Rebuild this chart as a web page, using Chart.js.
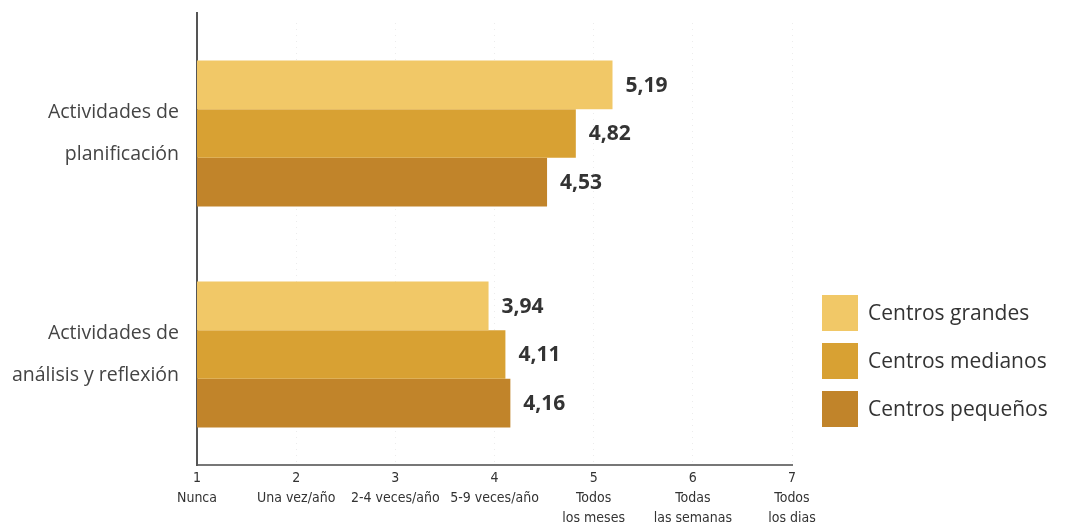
<!DOCTYPE html>
<html>
<head>
<meta charset="utf-8">
<script src="https://cdn.jsdelivr.net/npm/chart.js@4"></script>
<style>
  html, body { margin: 0; padding: 0; background: #ffffff; }
  #wrap { width: 1072px; height: 532px; position: relative; }
</style>
</head>
<body>
<div id="wrap"><canvas id="c" width="1072" height="532"></canvas></div>
<script>
// ---- data ----
const categories = [["Actividades de", "planificación"], ["Actividades de", "análisis y reflexión"]];
const seriesNames = ["Centros grandes", "Centros medianos", "Centros pequeños"];
const grandes = [5.19, 3.94];
const medianos = [4.82, 4.11];
const pequenos = [4.53, 4.16];
const tickNumbers = ["1", "2", "3", "4", "5", "6", "7"];
const tickLabels = [["Nunca"], ["Una vez/año"], ["2-4 veces/año"], ["5-9 veces/año"], ["Todos", "los meses"], ["Todas", "las semanas"], ["Todos", "los dias"]];

const colors = ["#F1C867", "#D8A133", "#C1842A"];
const seriesValues = [grandes, medianos, pequenos];

const valueLabelPlugin = {
  id: 'valueLabels',
  afterDatasetsDraw(chart) {
    const ctx = chart.ctx;
    ctx.save();
    ctx.font = 'bold 21px "Open Sans", "Noto Sans", sans-serif';
    ctx.fillStyle = '#333333';
    ctx.textAlign = 'left';
    ctx.textBaseline = 'middle';
    chart.data.datasets.forEach((ds, di) => {
      const meta = chart.getDatasetMeta(di);
      meta.data.forEach((bar, i) => {
        const txt = ds.data[i].toFixed(2).replace('.', ',');
        ctx.fillText(txt, bar.x + 13, bar.y + 1);
      });
    });
    ctx.restore();
  }
};

const axisExtendPlugin = {
  id: 'axisExtend',
  afterDraw(chart) {
    const ctx = chart.ctx;
    const a = chart.chartArea;
    ctx.save();
    ctx.strokeStyle = '#555555';
    ctx.lineWidth = 2;
    ctx.beginPath();
    ctx.moveTo(a.left, 12);
    ctx.lineTo(a.left, a.top + 1);
    ctx.stroke();
    ctx.restore();
  }
};

const legendPlugin = {
  id: 'sideLegend',
  afterDraw(chart) {
    const ctx = chart.ctx;
    ctx.save();
    const x0 = 822, y0 = 295, size = 36, step = 48;
    ctx.font = '21px "Open Sans", "Noto Sans", sans-serif';
    ctx.textAlign = 'left';
    ctx.textBaseline = 'middle';
    chart.data.datasets.forEach((ds, i) => {
      const y = y0 + i * step;
      ctx.fillStyle = ds.backgroundColor;
      ctx.fillRect(x0, y, size, size);
      ctx.fillStyle = '#333333';
      ctx.fillText(ds.label, x0 + 46, y + size / 2 + 1);
    });
    ctx.restore();
  }
};

new Chart(document.getElementById('c'), {
  type: 'bar',
  data: {
    labels: categories,
    datasets: seriesNames.map((name, i) => ({
      label: name,
      data: seriesValues[i],
      backgroundColor: colors[i],
      borderWidth: 0,
      categoryPercentage: 0.66,
      barPercentage: 1.0
    }))
  },
  options: {
    indexAxis: 'y',
    responsive: false,
    animation: false,
    devicePixelRatio: 1,
    layout: { padding: { top: 23, right: 280, left: 0, bottom: 0 } },
    plugins: {
      legend: { display: false },
      tooltip: { enabled: false }
    },
    scales: {
      x: {
        type: 'linear',
        min: 1,
        max: 7,
        afterFit(scale) { scale.height = 67; scale.paddingLeft = 0; scale.paddingRight = 0; },
        ticks: {
          stepSize: 1,
          autoSkip: false,
          maxRotation: 0,
          padding: 3,
          color: '#333333',
          font: { family: '"Liberation Sans Narrow", "DejaVu Sans Condensed", sans-serif', size: 14, lineHeight: 1.45 },
          callback(value) {
            const idx = Math.round(value) - 1;
            return [tickNumbers[idx], ...tickLabels[idx]];
          }
        },
        grid: {
          display: true,
          drawTicks: false,
          color: '#ececec',
          lineWidth: 1,
          tickLength: 0
        },
        border: { display: true, color: '#777777', width: 2, dash: [1, 5] }
      },
      y: {
        afterFit(scale) { scale.width = 197; scale.paddingTop = 0; scale.paddingBottom = 0; },
        ticks: {
          padding: 10,
          color: '#444444',
          font: { family: '"Open Sans", "Noto Sans", sans-serif', size: 19.5, lineHeight: 2.15 }
        },
        grid: { display: false },
        border: { display: true, color: '#555555', width: 2 }
      }
    }
  },
  plugins: [valueLabelPlugin, axisExtendPlugin, legendPlugin]
});
</script>
</body>
</html>
